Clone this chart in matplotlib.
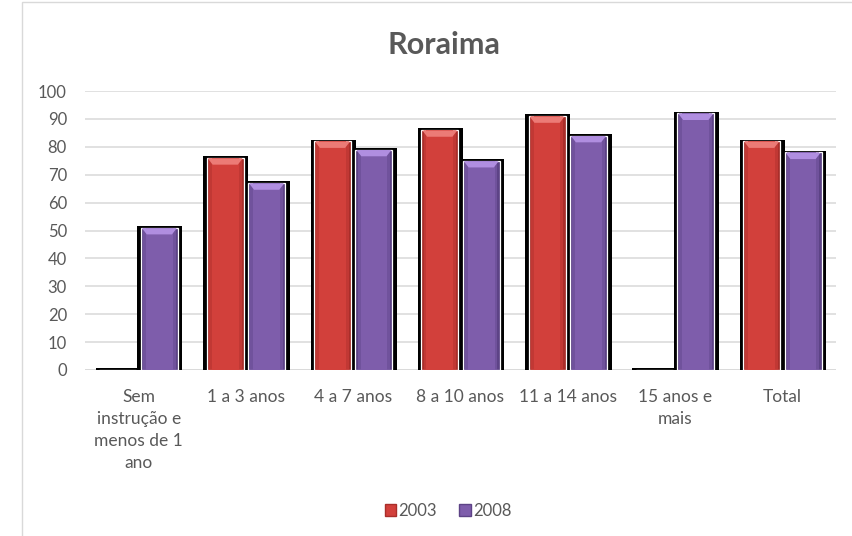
import numpy as np
import matplotlib
matplotlib.use("Agg")
import matplotlib.pyplot as plt
from matplotlib.patches import Patch, Rectangle

plt.rcParams['font.family'] = ['Lato', 'DejaVu Sans']

categories = ["Sem\ninstrução e\nmenos de 1\nano", "1 a 3 anos", "4 a 7 anos",
              "8 a 10 anos", "11 a 14 anos", "15 anos e\nmais", "Total"]
values_2003 = [0, 76, 82, 86, 91, 0, 82]
values_2008 = [51, 67, 79, 75, 84, 92, 78]
series_labels = ["2003", "2008"]

text_gray = "#595959"
grid_gray = "#d9d9d9"
# (edge dark, body, bevel light)
red = ("#a92e2a", "#d2403b", "#ec7b76")
purple = ("#5d4386", "#7e5dab", "#b08ee0")

fig = plt.figure(figsize=(8.52, 5.36), dpi=100)
ax = fig.add_axes([85 / 852, 1 - 370 / 536, 751 / 852, 279 / 536])

x = np.arange(len(categories))
bw = 0.345
off = 0.193
shadow_w = bw + 0.075


def draw_bars(xpos, vals, cols):
    # black shadow behind each bar
    ax.bar(xpos + 0.005, np.array(vals) + 0.6, width=shadow_w, color="black", zorder=2)
    # darker base, lighter core to fake the horizontal gradient
    ax.bar(xpos, vals, width=bw, color=cols[0], edgecolor="white", linewidth=0.9, zorder=3)
    ax.bar(xpos, vals, width=bw * 0.72, color=cols[1], linewidth=0, zorder=4)
    ax.bar(xpos, vals, width=bw * 0.88, color=cols[1], alpha=0.6, linewidth=0, zorder=4)
    # top bevel
    for xi, v in zip(xpos, vals):
        if v <= 0:
            continue
        l, r = xi - bw / 2 + 0.01, xi + bw / 2 - 0.01
        ax.fill([l, r, r - 0.045, l + 0.045], [v - 0.15, v - 0.15, v - 2.4, v - 2.4],
                color=cols[2], lw=0, zorder=5)


draw_bars(x - off, values_2003, red)
draw_bars(x + off, values_2008, purple)

ax.set_xlim(-0.5, len(categories) - 0.5)
ax.set_ylim(0, 100)
ax.set_yticks(range(0, 101, 10))
ax.set_xticks(x)
ax.set_xticklabels(categories, linespacing=1.45, va="top")
ax.yaxis.grid(True, color=grid_gray, linewidth=1.1, zorder=0)
ax.set_axisbelow(True)
for s in ax.spines.values():
    s.set_visible(False)
ax.axhline(0, color=grid_gray, linewidth=1.1, zorder=1)
ax.tick_params(axis="both", length=0, labelcolor=text_gray)
ax.tick_params(axis="y", pad=13, labelsize=12)
ax.tick_params(axis="x", pad=14, labelsize=12.5)

fig.text(444 / 852, 1 - 45 / 536, "Roraima", ha="center", va="center",
         fontsize=22, fontweight="bold", color=text_gray)

handles = [Patch(facecolor=red[1], edgecolor=red[0]),
           Patch(facecolor=purple[1], edgecolor=purple[0])]
fig.legend(handles, series_labels, loc="center", bbox_to_anchor=(448 / 852, 1 - 511 / 536),
           ncol=2, frameon=False, fontsize=12, labelcolor=text_gray,
           handlelength=0.7, handleheight=0.7, handletextpad=0.15, columnspacing=1.3)

# chart area border
fig.patches.append(Rectangle((22 / 852, -0.1), 1.2, 1 - 2 / 536 + 0.1, transform=fig.transFigure,
                             fill=False, edgecolor="#d9d9d9", linewidth=1.0))

fig.savefig("out.png", dpi=100)
